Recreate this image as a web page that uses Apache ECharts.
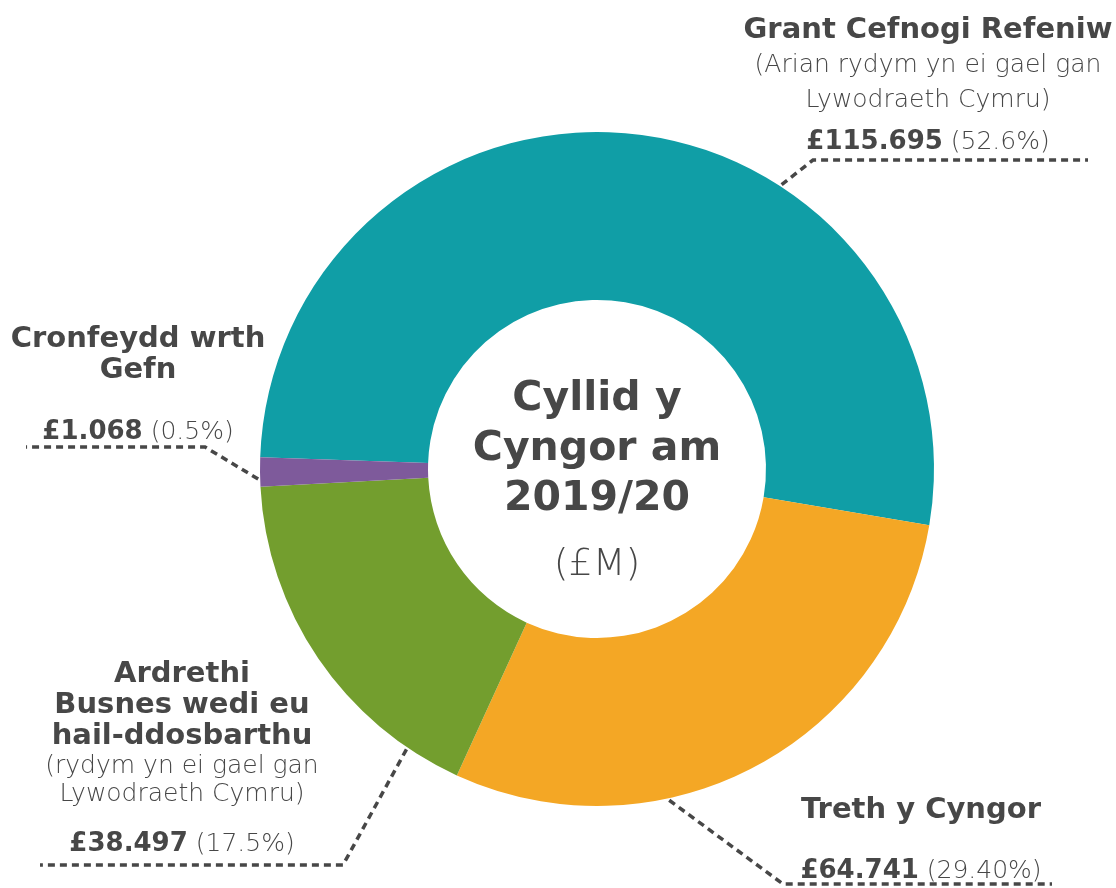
<!DOCTYPE html>
<html>
<head>
<meta charset="utf-8">
<script src="https://cdn.jsdelivr.net/npm/echarts@6/dist/echarts.min.js"></script>
<style>
  html, body { margin: 0; padding: 0; background: #fff; }
  #chart { width: 1116px; height: 888px; }
</style>
</head>
<body>
<div id="chart"></div>
<script>
// data
const categories = ['Grant Cefnogi Refeniw', 'Treth y Cyngor', 'Ardrethi Busnes wedi eu hail-ddosbarthu', 'Cronfeydd wrth Gefn'];
const values = [115.695, 64.741, 38.497, 1.068];
const percentLabels = ['52.6%', '29.40%', '17.5%', '0.5%'];
const nameLines = [['Grant Cefnogi Refeniw'], ['Treth y Cyngor'], ['Ardrethi', 'Busnes wedi eu', 'hail-ddosbarthu'], ['Cronfeydd wrth', 'Gefn']];
const noteLines = [['(Arian rydym yn ei gael gan', 'Lywodraeth Cymru)'], [], ['(rydym yn ei gael gan', 'Lywodraeth Cymru)'], []];
const colors = ['#109ea6', '#f4a725', '#739e2e', '#7e5a9b'];
const centerTitle = ['Cyllid y', 'Cyngor am', '2019/20'];
const centerUnit = '(£M)';

const textColor = '#474747';
const font = "'DejaVu Sans', sans-serif";
const cx = 597, cy = 469, rIn = 169, rOut = 337;

// where each label block and its leader line sit
const spots = [
  { x: 928, y: 160, nameH: 35, noteH: 35, gap: 6, angle: 57, elbow: [813, 160], endX: 1088 },
  { x: 921, y: 889, nameH: 31, noteH: 28, gap: 27, angle: -77.7, elbow: [783, 884], endX: 1052 },
  { x: 182, y: 862, nameH: 31, noteH: 28, gap: 18, angle: -124.2, elbow: [343, 865], endX: 40 },
  { x: 138, y: 450, nameH: 31, noteH: 28, gap: 28, angle: 181.7, elbow: [205, 447], endX: 26 }
];

const rich = {
  vb: { fontFamily: font, fontWeight: 'bold', fontSize: 26, color: textColor, lineHeight: 36 },
  vl: { fontFamily: font, fontWeight: 300, fontSize: 25, color: textColor, lineHeight: 36 }
};
spots.forEach((s, i) => {
  rich['b' + i] = { fontFamily: font, fontWeight: 'bold', fontSize: 29, color: textColor, lineHeight: s.nameH };
  rich['l' + i] = { fontFamily: font, fontWeight: 300, fontSize: 25, color: textColor, lineHeight: s.noteH };
  rich['g' + i] = { fontSize: 1, lineHeight: s.gap };
});

function labelText(params) {
  const i = params.dataIndex;
  const rows = [];
  nameLines[i].forEach(t => rows.push('{b' + i + '|' + t + '}'));
  noteLines[i].forEach(t => rows.push('{l' + i + '|' + t + '}'));
  rows.push('{g' + i + '| }');
  rows.push('{vb|£' + values[i].toFixed(3) + '}{vl| (' + percentLabels[i] + ')}');
  return rows.join('\n');
}

const chart = echarts.init(document.getElementById('chart'));
chart.setOption({
  animation: false,
  backgroundColor: '#ffffff',
  title: [
    {
      text: centerTitle.join('\n'),
      left: cx, top: 374, textAlign: 'center', padding: 0,
      textStyle: { fontFamily: font, fontWeight: 'bold', fontSize: 41, lineHeight: 50, color: textColor }
    },
    {
      text: centerUnit,
      left: cx, top: 543, textAlign: 'center', padding: 0,
      textStyle: { fontFamily: font, fontWeight: 300, fontSize: 38, lineHeight: 44, color: textColor }
    }
  ],
  series: [{
    type: 'pie',
    center: [cx, cy],
    radius: [rIn, rOut],
    startAngle: 178,
    minAngle: 5,
    clockwise: true,
    avoidLabelOverlap: false,
    itemStyle: { borderWidth: 0 },
    emphasis: { scale: false },
    label: {
      show: true,
      position: 'outside',
      formatter: labelText,
      rich: rich
    },
    labelLine: {
      show: true,
      smooth: false,
      lineStyle: { color: textColor, width: 3.5, type: [7, 5] }
    },
    labelLayout: function (params) {
      const s = spots[params.dataIndex];
      const a = s.angle * Math.PI / 180;
      const p0 = [cx + (rOut + 2) * Math.cos(a), cy - (rOut + 2) * Math.sin(a)];
      return {
        x: s.x, y: s.y, align: 'center', verticalAlign: 'bottom',
        labelLinePoints: [p0, s.elbow, [s.endX, s.elbow[1]]]
      };
    },
    data: categories.map((name, i) => ({ name: name, value: values[i], itemStyle: { color: colors[i] } }))
  }]
});
</script>
</body>
</html>
